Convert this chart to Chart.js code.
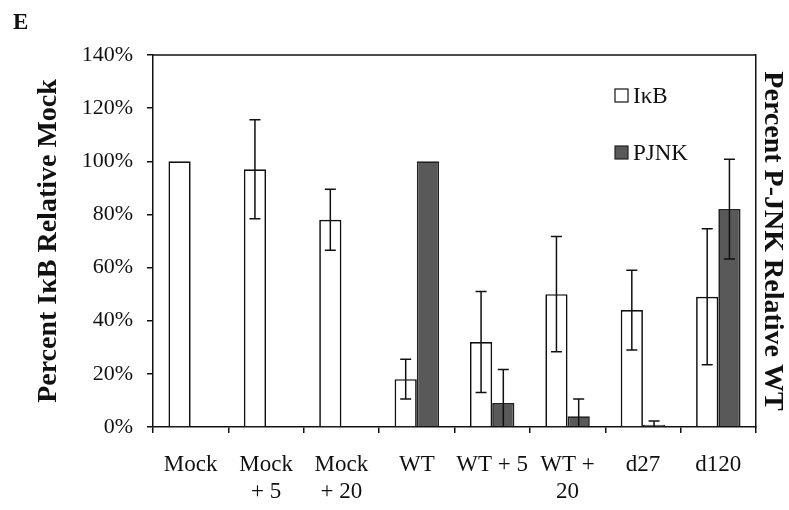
<!DOCTYPE html>
<html>
<head>
<meta charset="utf-8">
<script src="https://cdn.jsdelivr.net/npm/chart.js@4.4.1/dist/chart.umd.min.js"></script>
<style>
  body { margin: 0; background: #fff; }
  #wrap { position: relative; width: 789px; height: 510px; }
  #panel { position: absolute; left: 13px; top: 9px; font: bold 23px "Liberation Serif", serif; color: #111; }
</style>
</head>
<body>
<div id="wrap">
  <div id="panel">E</div>
  <canvas id="grafico"></canvas>
</div>
<script>
// categorias y valores
const categorias = ['Mock', ['Mock', '+ 5'], ['Mock', '+ 20'], 'WT', 'WT + 5', ['WT +', '20'], 'd27', 'd120']
const ikb = [100, 97, 78, 18, 32, 50, 44, 49]
const ikbErr = [0, 18.6, 11.5, 7.5, 19, 21.7, 15, 25.6]
const pjnk = [0, 0, 0, 100, 9, 4, 0.8, 82]
const pjnkErr = [0, 0, 0, 0, 12.6, 6.5, 1.5, 18.8]
const yTicks = [0, 20, 40, 60, 80, 100, 120, 140]

const errores = [ikbErr, pjnkErr]
const negro = '#111'

// barras de error
const errorBars = {
    id: 'errorBars',
    afterDatasetsDraw(chart) {
        const ctx = chart.ctx
        const y = chart.scales.y
        const area = chart.chartArea
        ctx.save()
        ctx.beginPath()
        ctx.rect(area.left, area.top, area.right - area.left, area.bottom - area.top)
        ctx.clip()
        ctx.strokeStyle = negro
        ctx.lineWidth = 1.5
        chart.data.datasets.forEach((ds, i) => {
            const meta = chart.getDatasetMeta(i)
            meta.data.forEach((bar, j) => {
                const e = errores[i][j]
                if (!e) return
                const top = y.getPixelForValue(ds.data[j] + e)
                const bot = y.getPixelForValue(ds.data[j] - e)
                ctx.beginPath()
                ctx.moveTo(bar.x, top); ctx.lineTo(bar.x, bot)
                ctx.moveTo(bar.x - 5.5, top); ctx.lineTo(bar.x + 5.5, top)
                ctx.moveTo(bar.x - 5.5, bot); ctx.lineTo(bar.x + 5.5, bot)
                ctx.stroke()
            })
        })
        ctx.restore()
    }
}

// marco superior y leyenda dentro del area
const marcoLeyenda = {
    id: 'marcoLeyenda',
    afterDraw(chart) {
        const ctx = chart.ctx
        const area = chart.chartArea
        ctx.save()
        ctx.strokeStyle = negro
        ctx.lineWidth = 1.5
        ctx.beginPath()
        ctx.moveTo(area.left, area.top)
        ctx.lineTo(area.right, area.top)
        ctx.stroke()

        ctx.font = '23px "Liberation Serif", serif'
        ctx.textBaseline = 'middle'
        ctx.textAlign = 'left'
        chart.data.datasets.forEach((ds, i) => {
            const x = area.right - 141
            const cy = area.top + 40 + i * 57
            ctx.fillStyle = ds.backgroundColor
            ctx.fillRect(x, cy - 6, 13, 13)
            ctx.lineWidth = 1.2
            ctx.strokeStyle = ds.borderColor
            ctx.strokeRect(x, cy - 6, 13, 13)
            ctx.fillStyle = negro
            ctx.fillText(ds.label, x + 18, cy + 2)
        })
        ctx.restore()
    }
}

const ctx = document.getElementById('grafico').getContext('2d')
const chart = new Chart(ctx, {
    type: 'bar',
    data: {
        labels: categorias,
        datasets: [{
            label: 'IκB',
            data: ikb,
            backgroundColor: '#ffffff',
            borderColor: negro,
            borderWidth: 1.7,
            categoryPercentage: 0.59,
            barPercentage: 1
        }, {
            label: 'PJNK',
            data: pjnk,
            backgroundColor: '#595959',
            borderColor: '#222',
            borderWidth: 1.7,
            categoryPercentage: 0.59,
            barPercentage: 1
        }]
    },
    options: {
        responsive: true,
        maintainAspectRatio: false,
        animation: false,
        layout: { padding: { top: 55, left: 32, right: 0, bottom: 0 } },
        plugins: {
            legend: { display: false },
            tooltip: { enabled: false }
        },
        scales: {
            x: {
                afterFit: (s) => { s.height = 83 },
                grid: { drawOnChartArea: false, tickLength: 6, color: negro, lineWidth: 1.5 },
                border: { color: negro, width: 1.5 },
                ticks: {
                    color: negro,
                    padding: 18,
                    maxRotation: 0,
                    autoSkip: false,
                    font: { family: '"Liberation Serif", serif', size: 23, lineHeight: 1.18 }
                }
            },
            y: {
                min: 0,
                max: 140,
                afterFit: (s) => { s.width = 121 },
                afterBuildTicks: (s) => { s.ticks = yTicks.map(v => ({ value: v })) },
                grid: { drawOnChartArea: false, tickLength: 6, color: negro, lineWidth: 1.5 },
                border: { color: negro, width: 1.5 },
                ticks: {
                    color: negro,
                    padding: 14,
                    callback: (v) => v + '%',
                    font: { family: '"Liberation Serif", serif', size: 22 }
                },
                title: {
                    display: true,
                    text: 'Percent IκB Relative Mock',
                    color: negro,
                    padding: { top: 0, bottom: 0 },
                    font: { family: '"Liberation Serif", serif', size: 28, weight: 'bold' }
                }
            },
            y2: {
                position: 'right',
                min: 0,
                max: 140,
                afterFit: (s) => { s.width = 33 },
                grid: { drawOnChartArea: false, drawTicks: false },
                border: { display: true, color: negro, width: 1.5 },
                ticks: { display: false },
                title: {
                    display: true,
                    text: 'Percent P-JNK Relative WT',
                    color: negro,
                    padding: { top: 0, bottom: 0 },
                    font: { family: '"Liberation Serif", serif', size: 28, weight: 'bold' }
                }
            }
        }
    },
    plugins: [errorBars, marcoLeyenda]
})
</script>
</body>
</html>
